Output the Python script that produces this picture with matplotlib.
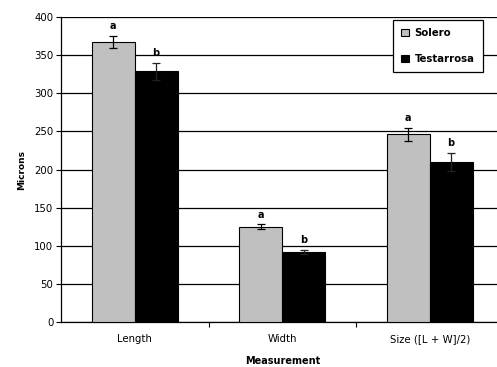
import numpy as np
import matplotlib
matplotlib.use('Agg')
import matplotlib.pyplot as plt
from matplotlib.ticker import FixedLocator

categories = ['Length', 'Width', 'Size ([L + W]/2)']
solero = [367, 125, 246]
solero_err = [8, 3, 8]
testarrosa = [329, 92, 210]
testarrosa_err = [11, 3, 12]
solero_letters = ['a', 'a', 'a']
testarrosa_letters = ['b', 'b', 'b']

plt.rcParams['font.family'] = ['DejaVu Sans']

fig = plt.figure(figsize=(4.97, 3.67), dpi=100)
ax = fig.add_axes([61/497, 45/367, 442.5/497, 305/367])

x = np.arange(len(categories))
w = 0.29
ax.bar(x - w/2, solero, w, color='#c0c0c0', edgecolor='black', linewidth=0.8,
       yerr=solero_err, capsize=3, error_kw=dict(elinewidth=0.9, capthick=0.9),
       label='Solero', zorder=3)
ax.bar(x + w/2, testarrosa, w, color='black', edgecolor='black', linewidth=0.8,
       yerr=testarrosa_err, capsize=3, error_kw=dict(elinewidth=0.9, capthick=0.9, ecolor='#222222'),
       label='Testarrosa', zorder=3)

for xi, v, e, t in zip(x - w/2, solero, solero_err, solero_letters):
    ax.annotate(t, (xi, v + e), xytext=(0, 3.5), textcoords='offset points',
                ha='center', va='bottom', fontsize=7, fontweight='bold')
for xi, v, e, t in zip(x + w/2, testarrosa, testarrosa_err, testarrosa_letters):
    ax.annotate(t, (xi, v + e), xytext=(0, 3.5), textcoords='offset points',
                ha='center', va='bottom', fontsize=7, fontweight='bold')

ax.set_ylim(0, 400)
ax.set_xlim(-0.5, 2.5)
ax.set_yticks(np.arange(0, 401, 50))
ax.yaxis.grid(True, color='black', linewidth=0.9, zorder=0)
ax.set_axisbelow(True)
ax.set_xticks(x)
ax.set_xticklabels(categories, fontsize=7.3)
ax.tick_params(axis='x', which='major', length=0, pad=9)
ax.xaxis.set_minor_locator(FixedLocator([0.5, 1.5]))
ax.tick_params(axis='x', which='minor', length=3.5, width=0.8)
ax.tick_params(axis='y', labelsize=7.3, length=3.5, width=0.8, pad=2)
for s in ['top', 'right']:
    ax.spines[s].set_visible(False)
ax.spines['left'].set_linewidth(0.9)
ax.spines['bottom'].set_linewidth(0.9)

ax.set_ylabel('Microns', fontsize=6.5, fontweight='bold', labelpad=6)
ax.set_xlabel('Measurement', fontsize=7, fontweight='bold', labelpad=8)

leg = ax.legend(loc='upper left', bbox_to_anchor=(0.750, 0.990), frameon=True,
                fancybox=False, edgecolor='black', framealpha=1, handlelength=0.75,
                handleheight=0.75, handletextpad=0.6, borderpad=0.8, labelspacing=1.55,
                borderaxespad=0, prop={'weight': 'bold', 'size': 7.3})
leg.get_frame().set_linewidth(0.9)

fig.savefig('out.png', dpi=100)
